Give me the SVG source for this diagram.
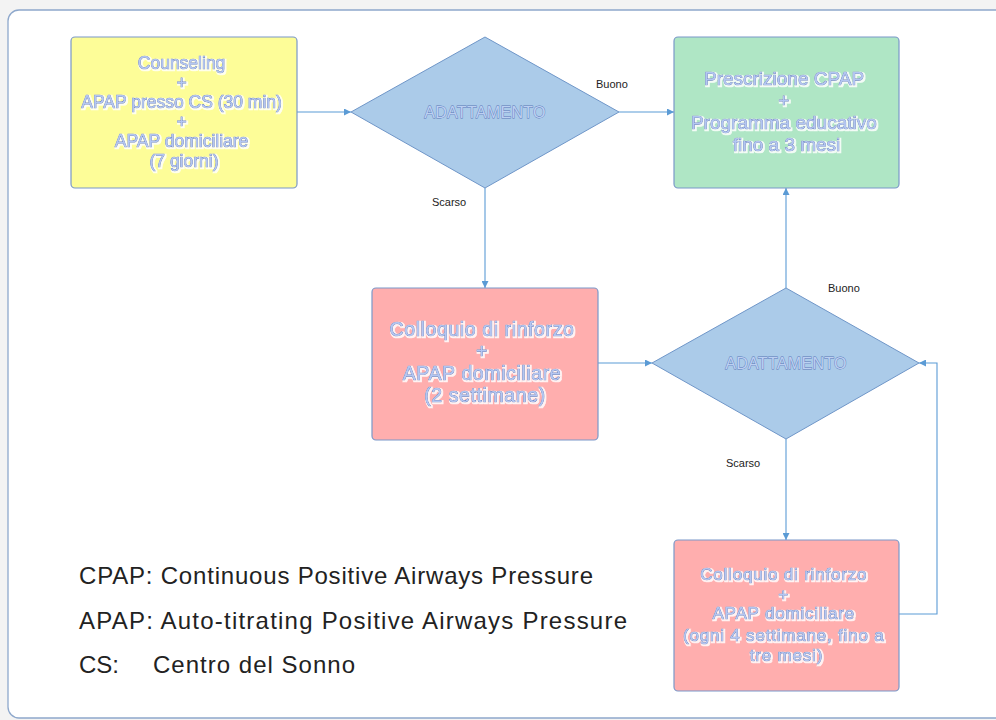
<svg xmlns="http://www.w3.org/2000/svg" width="996" height="720" viewBox="0 0 996 720">
<defs>
<marker id="arr" viewBox="0 0 10 10" refX="10" refY="5" markerWidth="7" markerHeight="7" markerUnits="userSpaceOnUse" orient="auto">
<path d="M0,0 L10,5 L0,10 z" fill="#5b9bd5"/>
</marker>
<filter id="glow" x="-10%" y="-30%" width="120%" height="160%">
<feMorphology in="SourceAlpha" operator="dilate" radius="0.9" result="d"/>
<feFlood flood-color="#ffffff" flood-opacity="0.85"/>
<feComposite in2="d" operator="in" result="w"/>
<feOffset in="w" dx="0.7" dy="0.9" result="wo"/>
<feMerge><feMergeNode in="wo"/><feMergeNode in="SourceGraphic"/></feMerge>
</filter>
</defs>
<style>
.box{stroke:#7b98c9;stroke-width:1.2}
.dia{fill:#abcbe9;stroke:#6f96c8;stroke-width:1}
.t{font-family:"Liberation Sans","DejaVu Sans",sans-serif;text-anchor:middle;fill:#b3c6f2;stroke:#4f6db3;stroke-width:0.7;paint-order:stroke;filter:url(#glow)}
.d{font-family:"Liberation Sans","DejaVu Sans",sans-serif;text-anchor:middle;font-size:16px;fill:#bcd0f2;stroke:#5b78b8;stroke-width:0.8;paint-order:stroke;letter-spacing:0.3px}
.lbl{font-family:"Liberation Sans","DejaVu Sans",sans-serif;font-size:11px;fill:#222}
.leg{font-family:"Liberation Sans","DejaVu Sans",sans-serif;font-size:24px;fill:#222}
.c{fill:none;stroke:#5b9bd5;stroke-width:1.1;marker-end:url(#arr)}
</style>
<rect x="0" y="0" width="996" height="720" fill="#f3f3f3"/>
<rect x="8" y="10" width="1000" height="708" rx="11" fill="#ffffff" stroke="#8ea8cc" stroke-width="1.3"/>

<g id="connectors">
<path class="c" d="M297,112 L351,112"/>
<path class="c" d="M619,112 L674,112"/>
<path class="c" d="M485,188 L485,288"/>
<path class="c" d="M598,363 L652,363"/>
<path class="c" d="M786,288 L786,188"/>
<path class="c" d="M786,439 L786,540"/>
<path class="c" d="M899,614 L937,614 L937,363 L919,363"/>
<text class="lbl" x="596" y="88">Buono</text>
<text class="lbl" x="432" y="206">Scarso</text>
<text class="lbl" x="828" y="292">Buono</text>
<text class="lbl" x="726" y="467">Scarso</text>
</g>

<g id="start">
<rect class="box" x="71" y="37" width="226" height="151" rx="4" fill="#fdfd98"/>
<text class="t" font-size="17.5">
<tspan x="184" y="69">Counseling</tspan>
<tspan x="184" y="88.5">+</tspan>
<tspan x="184" y="108">APAP presso CS (30 min)</tspan>
<tspan x="184" y="127.5">+</tspan>
<tspan x="184" y="147">APAP domiciliare</tspan>
<tspan x="184" y="166.5">(7 giorni)</tspan>
</text>
</g>

<g id="adattamento1">
<polygon class="dia" points="351,112 485,37 619,112 485,188"/>
<text class="d" x="485" y="118">ADATTAMENTO</text>
</g>

<g id="prescrizione">
<rect class="box" x="674" y="37" width="225" height="151" rx="4" fill="#afe6c5"/>
<text class="t" font-size="19">
<tspan x="786.5" y="85">Prescrizione CPAP</tspan>
<tspan x="786.5" y="107">+</tspan>
<tspan x="786.5" y="129">Programma educativo</tspan>
<tspan x="786.5" y="151">fino a 3 mesi</tspan>
</text>
</g>

<g id="colloquio1">
<rect class="box" x="372" y="288" width="226" height="152" rx="4" fill="#ffaeae"/>
<text class="t" font-size="19.5" letter-spacing="0.6">
<tspan x="485" y="336">Colloquio di rinforzo</tspan>
<tspan x="485" y="358">+</tspan>
<tspan x="485" y="380">APAP domiciliare</tspan>
<tspan x="485" y="402">(2 settimane)</tspan>
</text>
</g>

<g id="adattamento2">
<polygon class="dia" points="652,363 786,288 919,363 786,439"/>
<text class="d" x="786" y="369">ADATTAMENTO</text>
</g>

<g id="colloquio2">
<rect class="box" x="674" y="540" width="225" height="151" rx="4" fill="#ffaeae"/>
<text class="t" font-size="17" letter-spacing="0.8">
<tspan x="786.5" y="580">Colloquio di rinforzo</tspan>
<tspan x="786.5" y="599.5">+</tspan>
<tspan x="786.5" y="619">APAP domiciliare</tspan>
<tspan x="786.5" y="641">(ogni 4 settimane, fino a</tspan>
<tspan x="786.5" y="661">tre mesi)</tspan>
</text>
</g>

<g id="legend">
<text class="leg" x="79" y="584" textLength="514" lengthAdjust="spacing">CPAP: Continuous Positive Airways Pressure</text>
<text class="leg" x="79" y="629" textLength="548" lengthAdjust="spacing">APAP: Auto-titrating Positive Airways Pressure</text>
<text class="leg" x="79" y="673">CS:</text>
<text class="leg" x="153" y="673" textLength="202" lengthAdjust="spacing">Centro del Sonno</text>
</g>
</svg>
